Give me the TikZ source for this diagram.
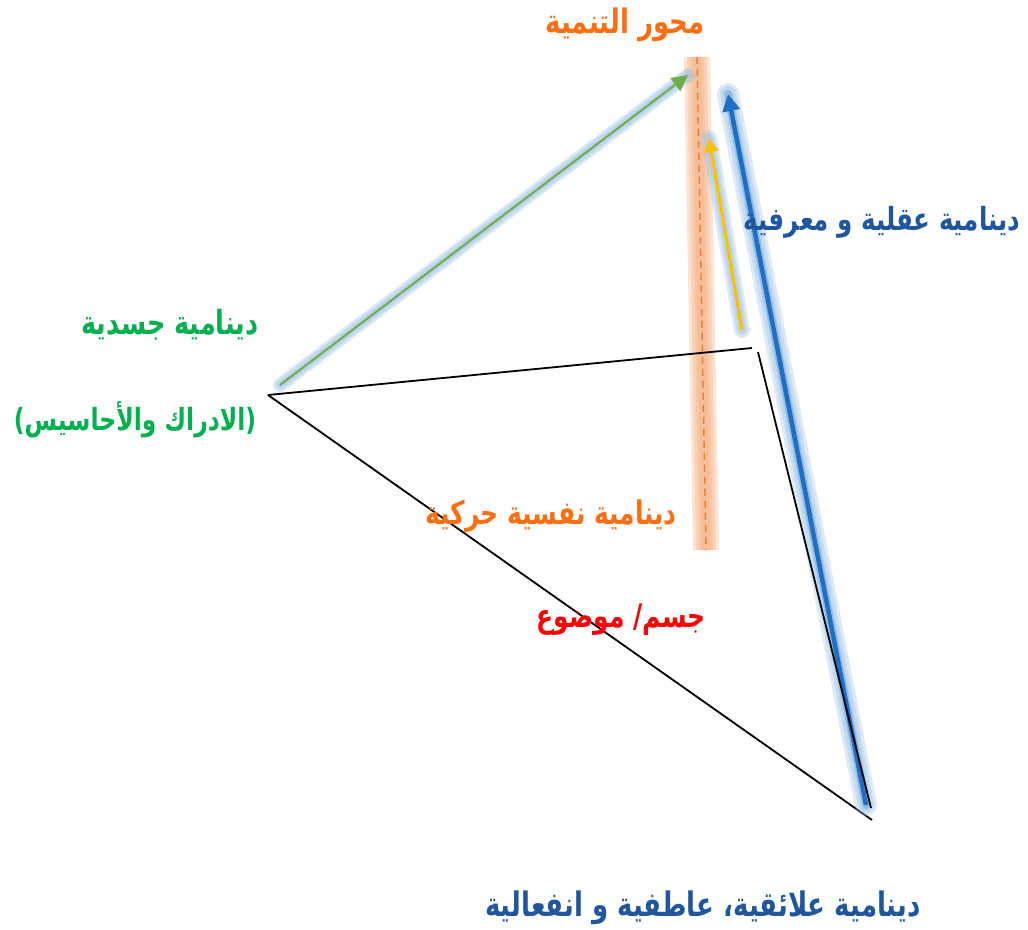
\documentclass[tikz,border=0pt]{standalone}
\usepackage{fontspec}
\usepackage{xcolor}
\usepackage{graphicx}
\usepackage{tikz}
\usetikzlibrary{arrows.meta}
\newfontfamily\arabicfont[Script=Arabic]{DejaVu Sans}
\TeXXeTstate=1
\newcommand\arR[1]{\scalebox{1}[1.3]{\beginR #1\endR}}
\definecolor{axisorange}{HTML}{ED7D31}
\definecolor{bandpeach}{HTML}{F4B183}
\definecolor{labelorange}{HTML}{FF6F11}
\definecolor{labelgreen}{HTML}{00B050}
\definecolor{labelblue}{HTML}{1F569E}
\definecolor{labelred}{HTML}{FF0000}
\definecolor{arrowgreen}{HTML}{70AD47}
\definecolor{arrowblue}{HTML}{1F6FC5}
\definecolor{arrowyellow}{HTML}{FFC000}
\definecolor{glowblue}{HTML}{9DC3E6}
\definecolor{glowdeep}{HTML}{5B9BD5}
\tikzset{
  arlabel/.style={font=\arabicfont\bfseries\fontsize{#1}{#1}\selectfont, inner sep=0pt, align=center},
  arlabel/.default=25,
  edge/.style={draw=black, line width=1.8pt},
  glow/.style={draw=glowblue, line cap=round, line width=#1, opacity=0.35},
  band/.style={draw=bandpeach, line width=#1, opacity=0.35},
  dyn/.style={-{Triangle[length=#1, width=#1]}}
}

\begin{document}
\begin{tikzpicture}[x=1pt,y=-1pt]
  \useasboundingbox (0,0) rectangle (1028,929);

  \coordinate (leftTip) at (268,395);
  \coordinate (topTip) at (752,348);
  \coordinate (rightTop) at (758,352);
  \coordinate (rightLow) at (871,808);
  \coordinate (bottomTip) at (872,820);

  \coordinate (axisTop) at (697,57);
  \coordinate (axisLow) at (706,550);

  \coordinate (greenFrom) at (280,385);
  \coordinate (greenTo) at (688,75);
  \coordinate (yellowFrom) at (742,330);
  \coordinate (yellowTo) at (709,138);
  \coordinate (blueFrom) at (866,805);
  \coordinate (blueTo) at (728,94);

  \foreach \w in {26,20,14,9}
    \draw[band=\w pt] (axisTop) -- (axisLow);
  \draw[axisorange, line width=1.4pt, dash pattern=on 7pt off 5pt] (axisTop) -- (axisLow);

  \draw[edge] (leftTip) -- (topTip);
  \draw[edge] (leftTip) -- (bottomTip);

  \foreach \w in {14,10,6}
    \draw[glow=\w pt] (greenFrom) -- (greenTo);
  \draw[dyn=16pt, arrowgreen, line width=2pt] (greenFrom) -- (greenTo);

  \foreach \w in {16,11,7}
    \draw[glow=\w pt] (yellowFrom) -- (yellowTo);
  \draw[dyn=14pt, arrowyellow, line width=3.2pt] (yellowFrom) -- (yellowTo);

  \foreach \w in {22,16,11}
    \draw[glow=\w pt] (blueFrom) -- (blueTo);
  \draw[glowdeep, line cap=round, line width=8pt, opacity=0.4] (blueFrom) -- (blueTo);
  \draw[dyn=17pt, arrowblue, line width=4.5pt] (blueFrom) -- (blueTo);

  \draw[edge] (rightTop) -- (rightLow);

  \node[arlabel=26, labelorange] (axisLabel) at (625,25) {\arR{محور التنمية}};
  \node[arlabel=24.5, labelblue] (mindLabel) at (882,222) {\arR{دينامية عقلية و معرفية}};
  \node[arlabel=25.5, labelgreen] (bodyLabel) at (170,325) {\arR{دينامية جسدية}};
  \node[arlabel=23.5, labelgreen] (senseLabel) at (135,420) {\arR{(الادراك والأحاسيس)}};
  \node[arlabel, labelorange] (motorLabel) at (551,516) {\arR{دينامية نفسية حركية}};
  \node[arlabel, labelred] (objectLabel) at (621,620) {\arR{جسم/ موضوع}};
  \node[arlabel=26, labelblue] (relationLabel) at (703,908) {\arR{دينامية علائقية، عاطفية و انفعالية}};
\end{tikzpicture}
\end{document}
